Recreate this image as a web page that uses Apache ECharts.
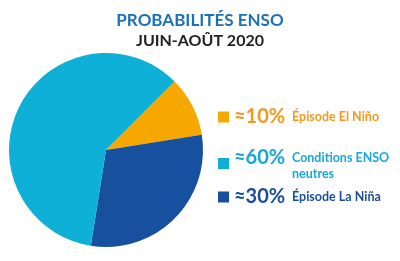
<!DOCTYPE html>
<html><head><meta charset="utf-8">
<script src="https://cdn.jsdelivr.net/npm/echarts@6/dist/echarts.min.js"></script>
<style>html,body{margin:0;padding:0;background:#fff}#c{width:400px;height:261px}</style>
</head><body><div id="c"></div>
<script>
const categories = ['Épisode El Niño', 'Conditions ENSO neutres', 'Épisode La Niña'];
const values = [10, 60, 30];
const percentLabels = ['≈10%', '≈60%', '≈30%'];
const labelLines = [['Épisode El Niño'], ['Conditions ENSO', 'neutres'], ['Épisode La Niña']];
const sliceColors = ['#f7a800', '#0fb0d8', '#16509e'];
const textColors = ['#f5981f', '#16a9d8', '#1a4f9d'];
const legendTops = [102, 143, 182];
const titleText = 'PROBABILITÉS ENSO';
const subtitleText = 'JUIN-AOÛT 2020';

const FONT = 'Lato, "Open Sans", sans-serif';
const chart = echarts.init(document.getElementById('c'), null, {renderer: 'canvas'});

// pie order clockwise starting at 45°: El Niño, La Niña, neutral
const pieOrder = [0, 2, 1];

const legends = categories.map((name, i) => ({
  data: [name],
  left: 213,
  top: legendTops[i],
  orient: 'vertical',
  icon: 'rect',
  itemWidth: 11,
  itemHeight: 11,
  itemGap: 0,
  selectedMode: false,
  formatter: () => {
    const lines = labelLines[i];
    let s = '{p|' + percentLabels[i] + '}{l|' + lines[0] + '}';
    for (let k = 1; k < lines.length; k++) s += '\n{e|}{l2|' + lines[k] + '}';
    return s;
  },
  textStyle: {
    fontFamily: FONT,
    rich: {
      p: {fontSize: 20, fontWeight: 'bold', color: textColors[i], width: 58, fontFamily: FONT, lineHeight: 20},
      l: {fontSize: 12.5, fontWeight: 'bold', color: textColors[i], fontFamily: FONT, lineHeight: 14},
      e: {width: 58, fontSize: 12, lineHeight: 11},
      l2: {fontSize: 12.5, fontWeight: 'bold', color: textColors[i], fontFamily: FONT, lineHeight: 11}
    }
  }
}));

chart.setOption({
  animation: false,
  title: [
    {text: titleText, left: 'center', top: 7, textStyle: {fontFamily: FONT, fontSize: 17, fontWeight: 'bold', color: '#1d71b8'}},
    {text: subtitleText, left: 'center', top: 28, textStyle: {fontFamily: FONT, fontSize: 16, fontWeight: 'bold', color: '#222222'}}
  ],
  legend: legends,
  series: [{
    type: 'pie',
    center: [106, 150],
    radius: 97,
    startAngle: 45,
    clockwise: true,
    label: {show: false},
    labelLine: {show: false},
    emphasis: {disabled: true},
    silent: true,
    data: pieOrder.map(i => ({name: categories[i], value: values[i], itemStyle: {color: sliceColors[i]}}))
  }]
});
</script></body></html>
